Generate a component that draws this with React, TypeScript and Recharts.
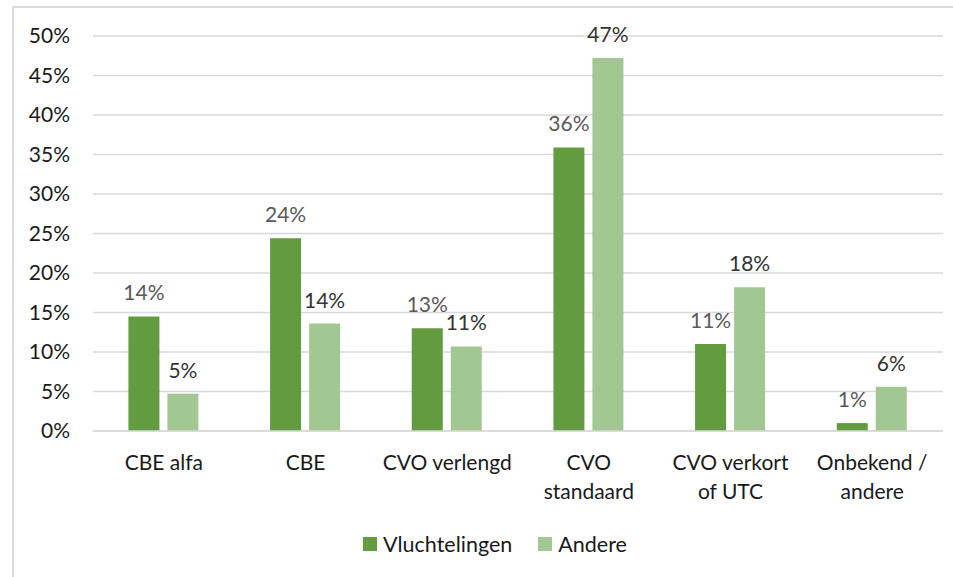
import { BarChart, Bar, XAxis, YAxis, CartesianGrid, LabelList } from "recharts";

const categories = ["CBE alfa", "CBE", "CVO verlengd", "CVO\nstandaard", "CVO verkort\nof UTC", "Onbekend /\nandere"];
const vluchtelingen = [0.145, 0.244, 0.13, 0.359, 0.11, 0.01];
const andere = [0.047, 0.136, 0.107, 0.472, 0.182, 0.056];
const yTicks = [0, 0.05, 0.1, 0.15, 0.2, 0.25, 0.3, 0.35, 0.4, 0.45, 0.5];

const DARK = "#629B40";
const LIGHT = "#A3C793";
const FONT = "Lato, 'Open Sans', sans-serif";

const data = categories.map((name, i) => ({ name, vluchtelingen: vluchtelingen[i], andere: andere[i] }));

const pct = (v: number) => `${Math.round(v * 100)}%`;

function CategoryTick({ x, y, payload }: any) {
  const lines = String(payload.value).split("\n");
  return (
    <text x={x} y={y + 39} textAnchor="middle" fill="#1a1a1a" fontSize={21} fontFamily={FONT}>
      {lines.map((l, i) => (
        <tspan key={i} x={x} dy={i === 0 ? 0 : 29}>
          {l}
        </tspan>
      ))}
    </text>
  );
}

function ChartLegend() {
  const items = [
    { label: "Vluchtelingen", color: DARK },
    { label: "Andere", color: LIGHT },
  ];
  return (
    <div
      style={{
        position: "absolute",
        left: 363,
        top: 530,
        display: "flex",
        gap: 26,
        fontFamily: FONT,
        fontSize: 21.5,
        lineHeight: "28px",
        color: "#1a1a1a",
      }}
    >
      {items.map((it) => (
        <div key={it.label} style={{ display: "flex", alignItems: "center", gap: 6 }}>
          <span style={{ width: 14, height: 14, background: it.color, display: "inline-block" }} />
          <span>{it.label}</span>
        </div>
      ))}
    </div>
  );
}

export default function App() {
  return (
    <div style={{ position: "absolute", left: 0, top: 0, width: 953, height: 577, overflow: "hidden", background: "#fff" }}>
      <div style={{ position: "absolute", left: 12, top: 6, width: 1000, height: 640, border: "2px solid #d9d9d9", boxSizing: "border-box" }} />
      <div style={{ position: "absolute", left: 0, top: 0 }}>
        <BarChart
          width={953}
          height={577}
          data={data}
          margin={{ top: 36, right: 10, left: 13, bottom: 86 }}
          barCategoryGap="25%"
          barGap={8}
        >
          <CartesianGrid vertical={false} stroke="#d9d9d9" strokeWidth={1.5} />
          <XAxis
            dataKey="name"
            axisLine={{ stroke: "#d9d9d9", strokeWidth: 1.5 }}
            tickLine={false}
            tickSize={0}
            tickMargin={0}
            height={60}
            interval={0}
            tick={<CategoryTick />}
          />
          <YAxis
            domain={[0, 0.5]}
            ticks={yTicks}
            tickFormatter={pct}
            axisLine={false}
            tickLine={false}
            tickSize={0}
            tickMargin={23}
            width={80}
            tick={{ fontSize: 21, fill: "#1a1a1a", fontFamily: FONT }}
          />
          <Bar dataKey="vluchtelingen" name="Vluchtelingen" fill={DARK} isAnimationActive={false}>
            <LabelList dataKey="vluchtelingen" position="top" offset={16} formatter={pct as any} fill="#595959" fontSize={21} fontFamily={FONT} />
          </Bar>
          <Bar dataKey="andere" name="Andere" fill={LIGHT} isAnimationActive={false}>
            <LabelList dataKey="andere" position="top" offset={16} formatter={pct as any} fill="#333333" fontSize={21} fontFamily={FONT} />
          </Bar>
        </BarChart>
      </div>
      <ChartLegend />
    </div>
  );
}
